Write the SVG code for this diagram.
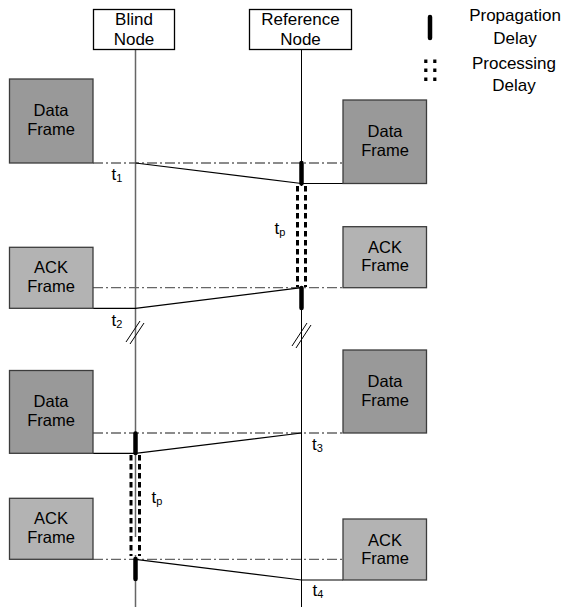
<svg xmlns="http://www.w3.org/2000/svg" width="564" height="608" viewBox="0 0 564 608">
<defs>
<style>
text{font-family:"Liberation Sans",Arial,sans-serif;fill:#000;}
.hdr{fill:#fff;stroke:#000;stroke-width:1.3;}
.hlab{font-size:17px;text-anchor:middle;}
.flab{font-size:16.5px;text-anchor:middle;}
.data{fill:#999;stroke:#3c3c3c;stroke-width:1.3;}
.ack{fill:#b3b3b3;stroke:#3c3c3c;stroke-width:1.3;}
.dd{stroke:#666;stroke-width:1.3;stroke-dasharray:10 3 2 3;fill:none;}
.msg{stroke:#000;stroke-width:1.2;fill:none;}
.prop{stroke:#000;stroke-width:4.5;stroke-linecap:round;fill:none;}
.proc{stroke:#000;stroke-width:3;stroke-dasharray:5.5 3.5;fill:none;}
.brk{stroke:#000;stroke-width:1;fill:none;}
.tl{font-size:17px;}
.sub{font-size:11px;}
</style>
</defs>
<rect width="564" height="608" fill="#fff"/>

<g id="connectors">
  <!-- lifelines -->
  <line x1="135.5" y1="49.5" x2="135.5" y2="607" stroke="#666" stroke-width="1.5"/>
  <line x1="301.5" y1="49.5" x2="301.5" y2="607" stroke="#000" stroke-width="1"/>
  <!-- hide ref line inside processing, and part of blind line -->
  <rect x="299" y="186" width="5" height="100" fill="#fff"/>
  <rect x="133" y="537" width="5" height="18" fill="#fff"/>
  <!-- break marks -->
  <line class="brk" x1="126" y1="342" x2="140" y2="321"/>
  <line class="brk" x1="130" y1="344" x2="144" y2="323"/>
  <line class="brk" x1="292" y1="346" x2="307" y2="323"/>
  <line class="brk" x1="296" y1="348" x2="311" y2="325"/>

  <!-- exchange 1 : data blind -> ref -->
  <line class="dd" x1="93" y1="163" x2="343" y2="163"/>
  <polyline class="msg" points="135.5,163 301.5,183.5 343,183.5"/>
  <!-- exchange 2 : ack ref -> blind -->
  <line class="dd" x1="93" y1="287.7" x2="343" y2="287.7"/>
  <polyline class="msg" points="301.5,287.7 135.5,308.3 93,308.3"/>
  <!-- exchange 3 : data ref -> blind -->
  <line class="dd" x1="93" y1="433" x2="343" y2="433"/>
  <polyline class="msg" points="301.5,433 135.5,453.3 93,453.3"/>
  <!-- exchange 4 : ack blind -> ref -->
  <line class="dd" x1="93" y1="559.3" x2="343" y2="559.3"/>
  <polyline class="msg" points="135.5,559.3 301.5,580 343,580"/>

  <!-- delays at reference node -->
  <line class="proc" x1="297.5" y1="186" x2="297.5" y2="287"/>
  <line class="proc" x1="305.5" y1="186" x2="305.5" y2="287"/>
  <line class="prop" x1="301.5" y1="163" x2="301.5" y2="183.5"/>
  <line class="prop" x1="301.5" y1="288" x2="301.5" y2="308"/>
  <!-- delays at blind node -->
  <line class="proc" x1="131" y1="455" x2="131" y2="556"/>
  <line class="proc" x1="139.5" y1="455" x2="139.5" y2="556"/>
  <line class="prop" x1="135.5" y1="433.5" x2="135.5" y2="453"/>
  <line class="prop" x1="135.5" y1="559" x2="135.5" y2="579"/>
</g>

<g id="blind-node">
  <rect class="hdr" x="93.5" y="9.5" width="81" height="40"/>
  <text class="hlab" x="134" y="25">Blind</text>
  <text class="hlab" x="134" y="45">Node</text>
</g>
<g id="reference-node">
  <rect class="hdr" x="249.5" y="9.5" width="102" height="40"/>
  <text class="hlab" x="300.5" y="25">Reference</text>
  <text class="hlab" x="300.5" y="45">Node</text>
</g>

<g id="legend">
  <line class="prop" x1="430" y1="17" x2="430" y2="38" stroke-width="5"/>
  <line x1="425.8" y1="59.5" x2="425.8" y2="82" stroke="#000" stroke-width="3.2" stroke-dasharray="3.5 5.5"/>
  <line x1="434.8" y1="59.5" x2="434.8" y2="82" stroke="#000" stroke-width="3.2" stroke-dasharray="3.5 5.5"/>
  <text class="hlab" x="515" y="21">Propagation</text>
  <text class="hlab" x="515" y="44">Delay</text>
  <text class="hlab" x="514" y="69">Processing</text>
  <text class="hlab" x="514" y="90.5">Delay</text>
</g>

<g id="blind-data-frame-1">
  <rect class="data" x="9.5" y="79" width="83.5" height="84"/>
  <text class="flab" x="51" y="116">Data</text>
  <text class="flab" x="51" y="135">Frame</text>
</g>
<g id="ref-data-frame-1">
  <rect class="data" x="343" y="100" width="83.5" height="83.5"/>
  <text class="flab" x="385" y="137">Data</text>
  <text class="flab" x="385" y="156">Frame</text>
</g>
<g id="ref-ack-frame-1">
  <rect class="ack" x="343" y="226.7" width="83.5" height="61"/>
  <text class="flab" x="385" y="252.5">ACK</text>
  <text class="flab" x="385" y="271">Frame</text>
</g>
<g id="blind-ack-frame-1">
  <rect class="ack" x="9.5" y="247.3" width="83.5" height="61"/>
  <text class="flab" x="51" y="273">ACK</text>
  <text class="flab" x="51" y="291.7">Frame</text>
</g>
<g id="ref-data-frame-2">
  <rect class="data" x="343" y="350" width="83.5" height="83"/>
  <text class="flab" x="385" y="386.7">Data</text>
  <text class="flab" x="385" y="405.5">Frame</text>
</g>
<g id="blind-data-frame-2">
  <rect class="data" x="9.5" y="370.5" width="83.5" height="82.8"/>
  <text class="flab" x="51" y="407">Data</text>
  <text class="flab" x="51" y="426">Frame</text>
</g>
<g id="blind-ack-frame-2">
  <rect class="ack" x="9.5" y="498.3" width="83.5" height="61"/>
  <text class="flab" x="51" y="524">ACK</text>
  <text class="flab" x="51" y="542.7">Frame</text>
</g>
<g id="ref-ack-frame-2">
  <rect class="ack" x="343" y="519" width="83.5" height="61"/>
  <text class="flab" x="385" y="545.5">ACK</text>
  <text class="flab" x="385" y="564">Frame</text>
</g>

<g id="time-labels">
  <text class="tl" x="111.5" y="180">t<tspan class="sub" dy="1.5">1</tspan></text>
  <text class="tl" x="111.5" y="326">t<tspan class="sub" dy="1.5">2</tspan></text>
  <text class="tl" x="274.5" y="234">t<tspan class="sub" dy="2">p</tspan></text>
  <text class="tl" x="312" y="450">t<tspan class="sub" dy="1.5">3</tspan></text>
  <text class="tl" x="312.5" y="596">t<tspan class="sub" dy="1.5">4</tspan></text>
  <text class="tl" x="151.5" y="503">t<tspan class="sub" dy="2">p</tspan></text>
</g>
</svg>
